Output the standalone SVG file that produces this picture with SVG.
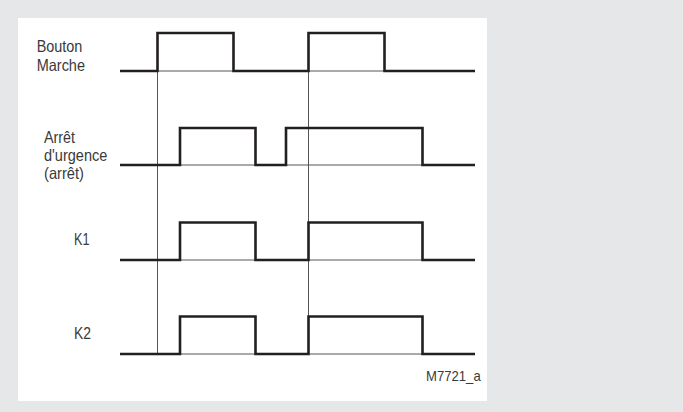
<svg xmlns="http://www.w3.org/2000/svg" width="683" height="412" viewBox="0 0 683 412">
<style>
.lbl{font-family:"Liberation Sans",Arial,sans-serif;font-size:16.5px;fill:#3a3a3a}
.sig{fill:none;stroke:#231f20;stroke-width:2.6;stroke-linejoin:miter;stroke-linecap:butt}
.thin{fill:none;stroke:#555;stroke-width:1}
</style>
<rect x="0" y="0" width="683" height="412" fill="#e6e7e8"/>
<rect x="18" y="18" width="469" height="383" fill="#ffffff"/>
<g id="connectors">
<line class="thin" x1="120" y1="71" x2="475" y2="71"/>
<line class="thin" x1="120" y1="165" x2="475" y2="165"/>
<line class="thin" x1="120" y1="260" x2="475" y2="260"/>
<line class="thin" x1="120" y1="354" x2="475" y2="354"/>
<line class="thin" x1="157.5" y1="33" x2="157.5" y2="354"/>
<line class="thin" x1="308.5" y1="33" x2="308.5" y2="354"/>
</g>
<g id="bouton-marche">
<text class="lbl" x="36.7" y="52" textLength="45.7" lengthAdjust="spacingAndGlyphs">Bouton</text>
<text class="lbl" x="36.7" y="70.7" textLength="48.3" lengthAdjust="spacingAndGlyphs">Marche</text>
<polyline class="sig" points="120,71 157.5,71 157.5,33 233.5,33 233.5,71 308.5,71 308.5,33 384.5,33 384.5,71 475,71"/>
</g>
<g id="arret-urgence">
<text class="lbl" x="44" y="143" textLength="31" lengthAdjust="spacingAndGlyphs">Arrêt</text>
<text class="lbl" x="44" y="161" textLength="63.3" lengthAdjust="spacingAndGlyphs">d'urgence</text>
<text class="lbl" x="44" y="178.5" textLength="40" lengthAdjust="spacingAndGlyphs">(arrêt)</text>
<polyline class="sig" points="120,165 180,165 180,128 255.5,128 255.5,165 286,165 286,128 422.5,128 422.5,165 475,165"/>
</g>
<g id="k1">
<text class="lbl" x="74" y="245" textLength="15.5" lengthAdjust="spacingAndGlyphs">K1</text>
<polyline class="sig" points="120,260 180,260 180,222.5 255.5,222.5 255.5,260 308.5,260 308.5,222.5 422.5,222.5 422.5,260 475,260"/>
</g>
<g id="k2">
<text class="lbl" x="74" y="339" textLength="17" lengthAdjust="spacingAndGlyphs">K2</text>
<polyline class="sig" points="120,354 180,354 180,316.5 255.5,316.5 255.5,354 308.5,354 308.5,316.5 422.5,316.5 422.5,354 475,354"/>
</g>
<g id="ref">
<text class="lbl" x="426" y="381" textLength="54.7" lengthAdjust="spacingAndGlyphs" style="font-size:15px">M7721_a</text>
</g>
</svg>
